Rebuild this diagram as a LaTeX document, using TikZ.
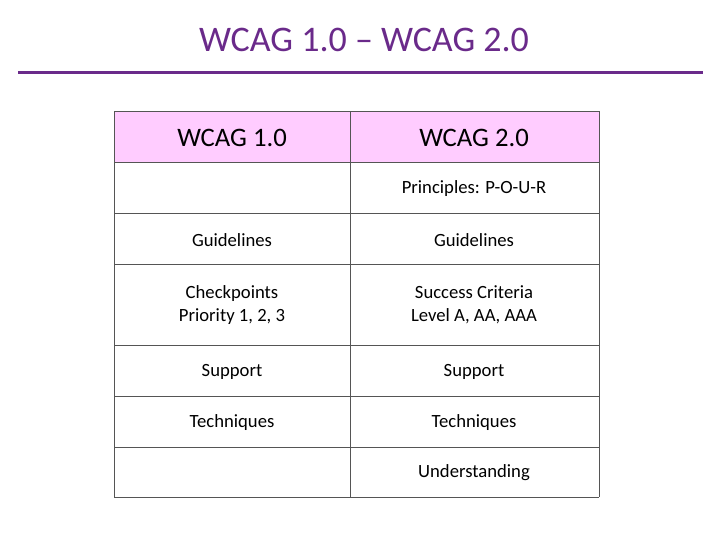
\documentclass[tikz,border=0pt]{standalone}
\usepackage{fontspec}
\setmainfont{Carlito}
\definecolor{ttl}{HTML}{6A2A8A}
\definecolor{hdr}{HTML}{FFCCFF}
\definecolor{grd}{HTML}{555555}
\tikzset{cell/.style={font=\fontsize{14}{17}\selectfont, align=center, text=black},
 head/.style={font=\fontsize{20}{24}\selectfont, text=black}}
\begin{document}
\begin{tikzpicture}[x=0.75pt,y=-0.75pt]
\useasboundingbox (0,0) rectangle (728,546);
\node[font=\fontsize{27}{32}\selectfont, text=ttl] (title) at (364,40) {WCAG 1.0 – WCAG 2.0};
\fill[ttl] (18,70.5) rectangle (703,74);
\fill[hdr] (114,111) rectangle (599,162);
\foreach \y in {111,162,213,264,345,396,447,497}
  \draw[grd, line width=0.6pt] (114,\y) -- (599,\y);
\foreach \x in {114,350,599}
  \draw[grd, line width=0.6pt] (\x,111) -- (\x,497);
\node[head] (h1) at (232,138) {WCAG 1.0};
\node[head] (h2) at (474,138) {WCAG 2.0};
\node[cell] (b1) at (474,189) {Principles: P-O-U-R};
\node[cell] (a2) at (232,240) {Guidelines};
\node[cell] (b2) at (474,240) {Guidelines};
\node[cell] (a3) at (232,305) {Checkpoints\\Priority 1, 2, 3};
\node[cell] (b3) at (474,305) {Success Criteria\\Level A, AA, AAA};
\node[cell] (a4) at (232,372) {Support};
\node[cell] (b4) at (474,372) {Support};
\node[cell] (a5) at (232,423) {Techniques};
\node[cell] (b5) at (474,423) {Techniques};
\node[cell] (b6) at (474,473) {Understanding};
\end{tikzpicture}
\end{document}
